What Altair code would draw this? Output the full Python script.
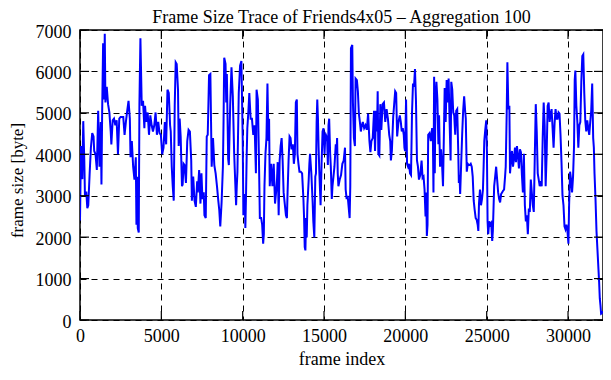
import altair as alt
import pandas as pd

frames = [
    0, 61, 142, 200, 264, 305, 386, 450, 508, 589, 670, 751, 832, 873, 954, 1035, 1117, 1198, 1279, 1319,
    1360, 1421, 1482, 1522, 1563, 1644, 1725, 1806, 1888, 1928, 2009, 2090, 2172, 2253, 2334, 2415, 2496,
    2577, 2659, 2740, 2821, 2902, 2983, 3064, 3105, 3186, 3267, 3348, 3430, 3470, 3511, 3551, 3612, 3653,
    3714, 3795, 3876, 3957, 3998, 4079, 4160, 4241, 4322, 4404, 4485, 4566, 4647, 4728, 4809, 4890, 4972,
    5053, 5134, 5215, 5296, 5377,
    5457, 5538, 5579, 5640, 5701, 5762, 5823, 5883, 5944, 6025, 6066, 6127, 6188, 6269, 6309, 6370, 6431,
    6512, 6593, 6675, 6756, 6837, 6878, 6959, 7040, 7121, 7202, 7243, 7324, 7405, 7466, 7527, 7608, 7649,
    7730, 7791, 7852, 7933, 8014, 8095, 8176, 8257, 8338, 8420, 8501, 8562, 8623, 8704, 8785, 8825, 8866,
    8947, 8988, 9028, 9109, 9150, 9231, 9312, 9394, 9475, 9515, 9596, 9637, 9678, 9759, 9840, 9921, 10002,
    10043, 10124, 10165, 10205, 10246, 10286, 10347, 10408, 10489, 10570, 10652, 10733, 10814, 10854,
    10934, 10995, 11056, 11137, 11198, 11259, 11300, 11340, 11401, 11462, 11523, 11584, 11624, 11665, 11746,
    11827, 11908, 11989, 12070, 12111, 12152, 12213, 12273, 12334, 12395, 12456, 12517, 12578, 12659, 12720,
    12760, 12821, 12882, 12943, 13004, 13085, 13146, 13207, 13268, 13329, 13369, 13430, 13491, 13572, 13653,
    13734, 13775, 13815, 13856, 13897, 13937, 13978, 14018, 14059, 14100, 14140, 14221, 14302, 14343, 14404,
    14465, 14505, 14546, 14586, 14627, 14668, 14708, 14789, 14850, 14911, 14972, 15033, 15073, 15114, 15155,
    15195, 15236, 15276, 15317, 15378, 15418, 15479, 15520, 15581, 15641, 15723, 15763, 15804, 15844, 15885,
    15966, 16047, 16128, 16209, 16290, 16331,
    16392, 16453, 16514, 16575, 16615, 16656, 16696, 16737, 16778, 16838, 16899, 16940, 17021, 17082, 17143,
    17204, 17264, 17325, 17386, 17467, 17549, 17630, 17711, 17792, 17853, 17914, 17995, 18076, 18137, 18198,
    18259, 18299, 18340, 18401, 18462, 18522, 18604, 18685, 18766, 18847, 18928, 19009, 19070, 19111, 19172,
    19253, 19314, 19375, 19435, 19496, 19578, 19659, 19720, 19780, 19841, 19902, 19943, 19983, 20044, 20105,
    20166, 20227, 20288, 20349, 20410, 20470, 20531, 20592, 20653, 20714, 20775, 20836, 20917, 20998, 21059,
    21120, 21180, 21241, 21282, 21322, 21363, 21404, 21485, 21566, 21647, 21688, 21728, 21769, 21809,
    21849, 21910, 21970, 22031, 22072, 22133, 22194, 22255, 22315, 22376, 22417, 22478, 22539, 22599, 22660,
    22721, 22782, 22823, 22883, 22944, 23005, 23066, 23127, 23188, 23249, 23289, 23330, 23370, 23431, 23492,
    23553, 23614, 23675, 23715, 23776, 23837, 23898, 23959, 24020, 24081, 24141, 24202, 24263, 24324, 24385,
    24446, 24486, 24527, 24588, 24649, 24710, 24770, 24811, 24852, 24912, 24973, 25014, 25055, 25095, 25156,
    25217, 25278, 25339, 25379, 25420, 25460, 25521, 25582, 25643, 25704, 25765, 25826, 25886, 25947, 26008,
    26069, 26130, 26170, 26231, 26272, 26333, 26394, 26434, 26495, 26556, 26617, 26678, 26739, 26799, 26860,
    26921, 26982, 27043, 27104, 27165, 27226, 27286,
    27347, 27408, 27469, 27530, 27590, 27651, 27712, 27773, 27834, 27895, 27956, 28017, 28077, 28138, 28199,
    28260, 28321, 28382, 28443, 28504, 28564, 28625, 28686, 28747, 28808, 28869, 28930, 28990, 29051, 29112,
    29173, 29234, 29295, 29356, 29417, 29477, 29538, 29599, 29660, 29721, 29782, 29843, 29904, 29964, 30025,
    30066, 30127, 30188, 30248, 30309, 30370, 30411, 30451, 30512, 30573, 30634, 30695, 30756, 30817, 30878,
    30938, 30999, 31060, 31121, 31182, 31243, 31304, 31365, 31425, 31486, 31547, 31588, 31628, 31689, 31750,
    31811, 31872, 31912, 31953, 31993, 32034, 32070, 32100,
]

sizes = [
    2400, 4200, 3400, 4800, 3850, 3000, 3100, 2700, 2770, 3500, 4160, 4510, 4430, 4080, 4000, 3620, 5050, 3700, 4780, 3270,
    4940, 6680, 5320, 6910, 5250, 5630, 5210, 5010, 4550, 4240, 4820, 4860, 4700, 4820, 4000, 4860, 4900,
    4900, 4900, 4470, 4780, 5050, 5290, 4860, 3930, 4320, 3700, 3390, 3930, 2300, 3460, 2220, 2110, 5210,
    6800, 5170, 5290, 4630, 5170, 4780, 5010, 4470, 4940, 4700, 4550, 4700, 5010, 4470, 4780, 4510, 4470,
    4000, 4160, 4780, 4240, 5560,
    5480, 4700, 4550, 3700, 3230, 2880, 5170, 6220, 6180, 5560, 4200, 4860, 4430, 3230, 3270, 3770, 3740,
    3310, 4320, 4590, 4550, 3850, 2880, 3460, 2880, 2730, 3350, 3080, 3620, 2810, 3540, 2920, 3080, 2530,
    2460, 4430, 4470, 5910, 5940, 3700, 4390, 3740, 3540, 3230, 2880, 2650, 2260, 2840, 3700, 4820, 6330,
    6180, 5250, 5940, 3890, 3740, 5170, 6100, 5400, 4050, 3620, 2770, 3230, 3580, 5480, 6140, 6250, 4390,
    2530, 3040, 2220, 3000, 3970, 4630, 5010, 5480, 4860, 4860, 4470, 4700, 3540, 5560,
    5320, 4010, 2460, 2460, 2300, 1840, 2070, 3230, 4010, 4390, 5710, 4320, 4860, 3230, 3770,
    3230, 3770, 2810, 3150, 3390, 3810, 2530, 3850, 4200, 4390, 3850, 3080, 2840, 2530, 2460,
    3080, 3850, 4430, 4390, 4120, 4240, 3770, 4010, 5250, 5320, 4010, 3770, 3580, 3580, 3540,
    2920, 2460, 1760, 1680, 2460, 1990, 2770, 3080, 3390, 3770, 4010, 3540, 2840, 2380, 1990,
    3460, 3540, 4780, 5320, 4860, 4160, 3620, 2770, 3770, 4550, 4630, 4010, 4390, 4470, 4430,
    4320, 3740, 4700, 4860, 4010, 3700, 2920, 3230, 3460, 3700, 4240, 4010, 4390, 3540, 3230,
    3390, 3500, 3770, 3850, 4160, 3150,
    2920, 3000, 2730, 2460, 3230, 6560, 6600, 6640, 5250, 4390, 4200, 5830, 5790, 5520, 4980,
    4780, 4550, 4700, 4780, 4630, 4700, 4590, 4980, 4320, 4050, 4320, 4390, 5050, 4080, 5050,
    4550, 5520, 4010, 3970, 5210, 4590, 5210, 5250, 4780, 5090, 4860, 4470, 4320, 3850, 4080,
    4900, 5210, 5520, 5480, 4430, 4780, 4940, 4780, 4550, 4630, 4470, 4160, 4080, 5320, 3770,
    3700, 3770, 3540, 3500, 5010, 5710, 5630, 6060, 5290, 3850, 3700, 3390, 3500, 3850, 3430,
    3460, 3150, 2500, 3080, 2030, 2300, 4470, 4510, 4320, 4630, 4590, 3080, 5870, 3540,
    5250, 5750, 5320, 4240, 4940, 3700, 4120, 3770, 3230, 4630, 5600, 4780, 5790, 5250, 5830,
    4780, 3850, 5750, 5560, 5010, 4940, 4470, 5050, 5090, 4120, 3310, 3500, 3040, 3770, 4470,
    5050, 5400, 5050, 4860, 3580, 3770, 3740, 3740, 3770, 3700, 3460, 2880, 2650, 2460, 2420,
    2300, 2150, 2810, 3150, 2770, 2920, 3150, 3700, 4320, 4590, 4820, 4080, 2380, 2070, 2380,
    2300, 2340, 1910, 2150, 2690, 3230, 3460, 3700, 3390, 3080, 2920, 2840, 3040, 3080, 3120,
    3150, 3460, 3700, 5010, 6220, 5090, 5170, 3540, 3850, 4080, 3700, 3890, 4160, 3810, 4200,
    3970, 3660, 4120, 4050, 3500, 3080, 4010,
    2770, 2380, 2530, 2070, 2690, 2610, 3390, 3080, 2770, 2610, 3930, 5210, 4550, 3540, 3390,
    3230, 3350, 3230, 4390, 5250, 4700, 3230, 4010, 5170, 5250, 4780, 4980, 5090, 4630, 4160,
    4740, 5090, 4860, 4860, 5010, 4980, 4470, 3810, 3000, 2770, 2260, 2190, 2300, 2150, 1840,
    2770, 3580, 3390, 3080, 3460, 4200, 5790, 6020, 5170, 4780, 4160, 4700, 4780, 5750, 6370,
    6410, 5480, 4820, 4550, 4820, 4630, 4470, 4780, 5050, 5710, 4390, 4160, 3540, 2920, 2150,
    1680, 1220, 910, 520, 360, 150, 160, 220,
]

x_ticks = [0, 5000, 10000, 15000, 20000, 25000, 30000]
y_ticks = [0, 1000, 2000, 3000, 4000, 5000, 6000, 7000]

W, H = 523, 290
FONT = "Liberation Serif"

df = pd.DataFrame({"frame": frames, "size": sizes})
xt = pd.DataFrame({"frame": x_ticks})
yt = pd.DataFrame({"size": y_ticks})

xscale = alt.Scale(domain=[0, 32150], nice=False, zero=False)
yscale = alt.Scale(domain=[0, 7000], nice=False)

grid_style = dict(grid=True, gridColor="black", gridDash=[6, 5], gridWidth=1, gridOpacity=1,
                  ticks=False, tickSize=0, domain=False, labelColor="black", titleColor="black",
                  labelFont=FONT, titleFont=FONT, labelFontSize=18,
                  labelFontWeight="normal", titleFontWeight="normal", format="d")

xaxis = alt.Axis(values=x_ticks, title="frame index", labelPadding=21,
                 labelBaseline="alphabetic", labelAlign="center", titleFontSize=18,
                 titleX=W / 2, titleY=44, titleBaseline="alphabetic",
                 titleAlign="center", **grid_style)
yaxis = alt.Axis(values=y_ticks, title="frame size [byte]", labelPadding=9,
                 labelBaseline="middle", labelOffset=2, titleFontSize=17,
                 titleX=-58, titleY=150, titleAngle=-90, titleBaseline="alphabetic",
                 titleAlign="center", **grid_style)

line = alt.Chart(df).mark_line(color="#0000ff", strokeWidth=2, clip=True).encode(
    x=alt.X("frame:Q", scale=xscale, axis=xaxis),
    y=alt.Y("size:Q", scale=yscale, axis=yaxis),
)

tick_style = dict(color="black", strokeWidth=1.2)
left_ticks = alt.Chart(yt).mark_rule(**tick_style).encode(
    y=alt.Y("size:Q", scale=yscale, axis=yaxis), x=alt.value(0), x2=alt.value(9))
right_ticks = alt.Chart(yt).mark_rule(**tick_style).encode(
    y=alt.Y("size:Q", scale=yscale, axis=yaxis), x=alt.value(W - 9), x2=alt.value(W))
top_ticks = alt.Chart(xt).mark_rule(**tick_style).encode(
    x=alt.X("frame:Q", scale=xscale, axis=xaxis), y=alt.value(0), y2=alt.value(9))
bottom_ticks = alt.Chart(xt).mark_rule(**tick_style).encode(
    x=alt.X("frame:Q", scale=xscale, axis=xaxis), y=alt.value(H - 9), y2=alt.value(H))

chart = alt.layer(line, left_ticks, right_ticks, top_ticks, bottom_ticks).properties(
    width=W, height=H,
    title=alt.TitleParams("Frame Size Trace of Friends4x05 \u2013 Aggregation 100",
                          font=FONT, fontSize=18, fontWeight="normal", color="black",
                          anchor="middle", frame="group", offset=4, dy=8),
    padding={"left": 72, "top": 22, "right": 0, "bottom": 48},
    autosize="none",
).configure_view(stroke="black", strokeWidth=1.5)

chart.save("out.html", embed_options={"renderer": "svg", "actions": False})
